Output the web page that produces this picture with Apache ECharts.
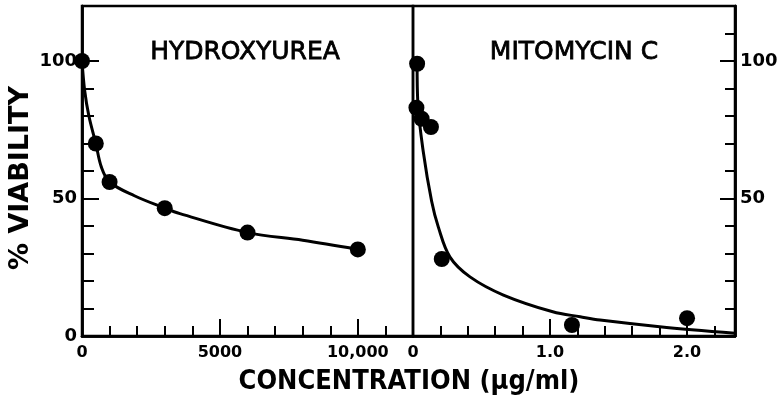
<!DOCTYPE html>
<html><head><meta charset="utf-8">
<script src="https://cdn.jsdelivr.net/npm/echarts@6/dist/echarts.min.js"></script>
<style>html,body{margin:0;padding:0;background:#fff}#c{width:777px;height:405px}</style>
</head><body><div id="c"></div>
<script>
// Measured data points
const hydroxyX = [0, 500, 1000, 3000, 6000, 10000];
const hydroxyY = [100, 70, 56, 46.5, 37.6, 31.5];
// Fitted curve
const hydroxyCurveX = [0, 100, 250, 500, 700, 1000, 1900, 3000, 3550, 6000, 8000, 10000];
const hydroxyCurveY = [100, 89, 80, 70, 61.5, 56, 51, 46.5, 44.5, 37.6, 34.8, 31.5];

const mitoX = [0.03, 0.025, 0.063, 0.131, 0.21, 1.16, 2.0];
const mitoY = [99, 83, 79, 76, 28, 4, 6.5];
const mitoCurveX = [0.03, 0.035, 0.075, 0.136, 0.185, 0.27, 0.416, 0.66, 1.02, 1.22, 1.365, 1.8, 2.35];
const mitoCurveY = [99, 85, 67, 49, 39.6, 28.7, 21.5, 14.9, 8.8, 7.0, 5.8, 3.4, 1.0];

// Tick values / labels
const yLeftMinorTicks = [10, 20, 30, 40, 50, 60, 70, 80, 90, 100];
const yRightMinorTicks = [10, 20, 30, 40, 50, 60, 70, 80, 90, 100, 110];
const yMajorTicks = [50, 100];
const yLeftLabels = [0, 50, 100];
const yRightLabels = [50, 100];
const xLeftMinorTicks = [1000, 2000, 3000, 4000, 5000, 6000, 7000, 8000, 9000, 10000, 11000];
const xLeftMajorTicks = [5000, 10000];
const xLeftLabels = [0, 5000, 10000];
const xRightMinorTicks = [0.2, 0.4, 0.6, 0.8, 1.0, 1.2, 1.4, 1.6, 1.8, 2.0, 2.2];
const xRightMajorTicks = [1.0, 2.0];
const xRightLabels = [0, 1, 2];

const FONT = '"DejaVu Sans", sans-serif';
const zip = (a, b) => a.map((v, i) => [v, b[i]]);

function tickAxis(gridIndex, pos, min, max, ticks, len, labels, fmt, margin, fs) {
  return {
    type: 'value', gridIndex, position: pos, min, max,
    splitLine: { show: false },
    axisLine: { show: true, onZero: false, lineStyle: { color: '#000', width: 2.5 } },
    axisTick: { show: true, inside: true, length: len, customValues: ticks, lineStyle: { color: '#000', width: 2 } },
    axisLabel: labels ? { show: true, customValues: labels, formatter: fmt, color: '#000', fontSize: fs, fontWeight: 'bold', fontFamily: FONT, margin } : { show: false },
  };
}

const fmtYLeft = v => String(Math.round(v));
const fmtXLeft = v => (Math.round(v) === 10000 ? '10,000' : String(Math.round(v)));
const fmtXRight = v => (Math.abs(v) < 1e-6 ? '0' : v.toFixed(1));

const chart = echarts.init(document.getElementById('c'), null, { renderer: 'canvas' });
chart.setOption({
  animation: false,
  backgroundColor: '#fff',
  grid: [
    { left: 82, top: 6, width: 331, height: 330, outerBoundsMode: 'none', containLabel: false, show: true, borderColor: '#000', borderWidth: 2.5, backgroundColor: 'transparent' },
    { left: 413, top: 6, width: 322, height: 330, outerBoundsMode: 'none', containLabel: false, show: true, borderColor: '#000', borderWidth: 2.5, backgroundColor: 'transparent' }
  ],
  xAxis: [
    tickAxis(0, 'bottom', 0, 12000, xLeftMinorTicks, 10, xLeftLabels, fmtXLeft, 9, 16),
    tickAxis(0, 'bottom', 0, 12000, xLeftMajorTicks, 17, null),
    tickAxis(1, 'bottom', 0, 2.35, xRightMinorTicks, 10, xRightLabels, fmtXRight, 9, 16),
    tickAxis(1, 'bottom', 0, 2.35, xRightMajorTicks, 17, null)
  ],
  yAxis: [
    tickAxis(0, 'left', 0, 120, yLeftMinorTicks, 12, yLeftLabels, fmtYLeft, 5, 18),
    tickAxis(0, 'left', 0, 120, yMajorTicks, 17, null),
    tickAxis(1, 'right', 0, 120, yRightMinorTicks, 10, yRightLabels, fmtYLeft, 5, 18),
    tickAxis(1, 'right', 0, 120, yMajorTicks, 15, null)
  ],
  series: [
    { type: 'line', xAxisIndex: 0, yAxisIndex: 0, data: zip(hydroxyCurveX, hydroxyCurveY), smooth: 0.35,
      showSymbol: false, symbol: 'none', lineStyle: { color: '#000', width: 3 } },
    { type: 'scatter', xAxisIndex: 0, yAxisIndex: 0, data: zip(hydroxyX, hydroxyY), symbolSize: 16, clip: false,
      itemStyle: { color: '#000', opacity: 1 } },
    { type: 'line', xAxisIndex: 2, yAxisIndex: 2, data: zip(mitoCurveX, mitoCurveY), smooth: 0.35,
      showSymbol: false, symbol: 'none', lineStyle: { color: '#000', width: 3 } },
    { type: 'scatter', xAxisIndex: 2, yAxisIndex: 2, data: zip(mitoX, mitoY), symbolSize: 16, clip: false,
      itemStyle: { color: '#000', opacity: 1 } }
  ],
  graphic: [
    { type: 'text', x: 245, y: 52, style: { text: 'HYDROXYUREA', fill: '#000', stroke: '#000', lineWidth: 0.8, fontSize: 25, fontFamily: FONT, align: 'center', verticalAlign: 'middle' } },
    { type: 'text', x: 574, y: 52, style: { text: 'MITOMYCIN C', fill: '#000', stroke: '#000', lineWidth: 0.8, fontSize: 25, fontFamily: FONT, align: 'center', verticalAlign: 'middle' } },
    { type: 'text', x: 409, y: 382, scaleX: 0.9, style: { text: 'CONCENTRATION (\u00b5g/ml)', fill: '#000', fontSize: 27, fontWeight: 'bold', fontFamily: FONT, align: 'center', verticalAlign: 'middle' } },
    { type: 'text', x: 21, y: 178, rotation: Math.PI / 2, style: { text: '% VIABILITY', fill: '#000', fontSize: 27, fontWeight: 'bold', fontFamily: FONT, align: 'center', verticalAlign: 'middle' } }
  ]
});
</script>
</body></html>
